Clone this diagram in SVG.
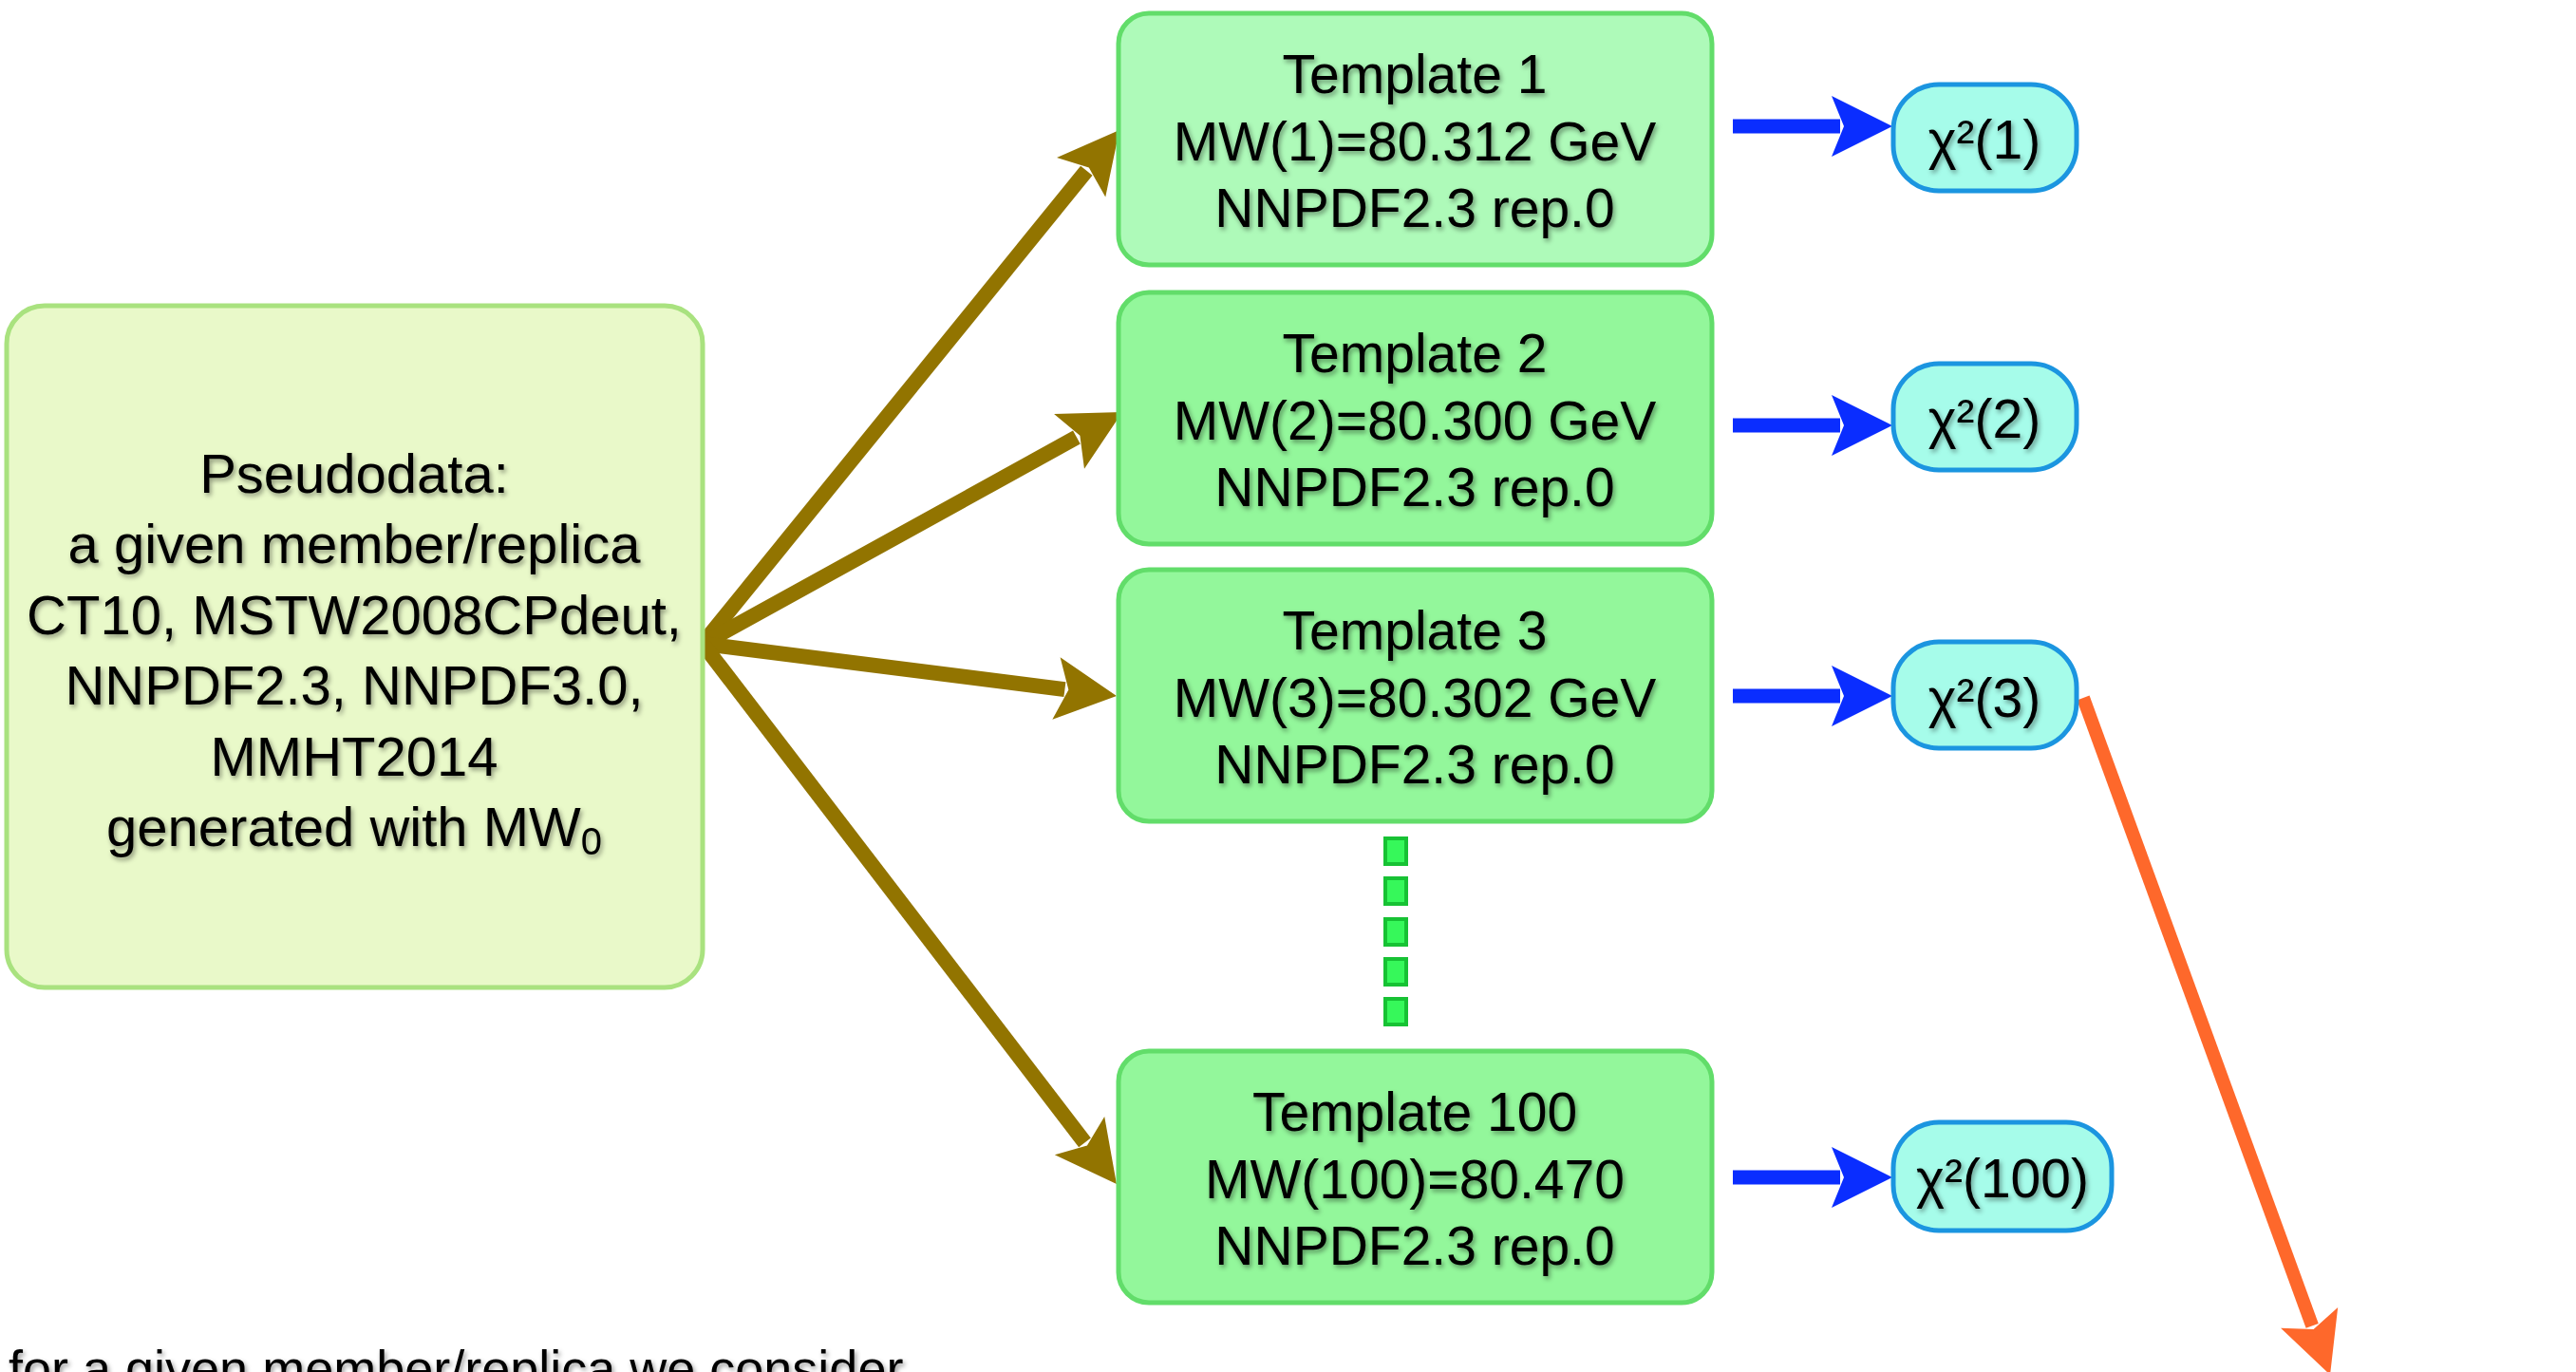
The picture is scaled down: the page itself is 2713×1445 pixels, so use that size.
<svg xmlns="http://www.w3.org/2000/svg" width="2713" height="1445" viewBox="0 0 2713 1445">
  <style>
    .txt { font-family: "Liberation Sans", Arial, sans-serif; fill: #000; text-anchor: middle; filter: url(#ts); }
    .t57 { font-size: 57px; }
    .t58 { font-size: 58px; }
    .pseudo { fill: #e9f9c9; stroke: #a9e27f; stroke-width: 5; }
    .tpl { fill: #93f79b; stroke: #62dd6a; stroke-width: 5; }
    .tpl1 { fill: #aefab9; stroke: #62dd6a; stroke-width: 5; }
    .chi { fill: #a6fcea; stroke: #1b95e0; stroke-width: 5; }
    .brown { stroke: #927400; stroke-width: 16; fill: none; marker-end: url(#ahBrown); }
    .blue { stroke: #0a2dff; stroke-width: 15; fill: none; marker-end: url(#ahBlue); }
    .orange { stroke: #fe682b; stroke-width: 14; fill: none; marker-end: url(#ahOrange); }
    .dot { fill: #36f85a; stroke: #17c234; stroke-width: 4; }
  </style>
  <defs>
    <filter id="ts" x="-10%" y="-30%" width="120%" height="170%">
      <feDropShadow dx="2" dy="3" stdDeviation="2.5" flood-color="#000" flood-opacity="0.4"/>
    </filter>
    <marker id="ahBrown" markerUnits="userSpaceOnUse" viewBox="-20 -40 80 80" markerWidth="80" markerHeight="80" refX="0" refY="0" orient="auto" overflow="visible">
      <path d="M -9,-33 L 55,0 L -9,33 L 4,0 Z" fill="#927400"/>
    </marker>
    <marker id="ahBlue" markerUnits="userSpaceOnUse" viewBox="-20 -40 80 80" markerWidth="80" markerHeight="80" refX="0" refY="0" orient="auto" overflow="visible">
      <path d="M -9,-32 L 55,0 L -9,32 L 4,0 Z" fill="#0a2dff"/>
    </marker>
    <marker id="ahOrange" markerUnits="userSpaceOnUse" viewBox="-20 -40 80 80" markerWidth="80" markerHeight="80" refX="0" refY="0" orient="auto" overflow="visible">
      <path d="M -9,-32 L 55,0 L -9,32 L 4,0 Z" fill="#fe682b"/>
    </marker>
  </defs>

  <rect width="2713" height="1445" fill="#ffffff"/>

  <g id="connectors">
    <line class="brown" x1="740" y1="678" x2="1144.3" y2="179.7"/>
    <line class="brown" x1="740" y1="678" x2="1133.9" y2="460.6"/>
    <line class="brown" x1="740" y1="678" x2="1121.4" y2="726.1"/>
    <line class="brown" x1="740" y1="678" x2="1142.5" y2="1203.3"/>
    <line class="blue" x1="1825" y1="133" x2="1938" y2="133"/>
    <line class="blue" x1="1825" y1="448" x2="1938" y2="448"/>
    <line class="blue" x1="1825" y1="733" x2="1938" y2="733"/>
    <line class="blue" x1="1825" y1="1240" x2="1938" y2="1240"/>
    <line class="orange" x1="2194" y1="735" x2="2435.2" y2="1396.3"/>
    <g id="ellipsis-dots">
      <rect class="dot" x="1459" y="883" width="22" height="27"/>
      <rect class="dot" x="1459" y="925" width="22" height="27"/>
      <rect class="dot" x="1459" y="968" width="22" height="27"/>
      <rect class="dot" x="1459" y="1010" width="22" height="27"/>
      <rect class="dot" x="1459" y="1052" width="22" height="27"/>
    </g>
  </g>

  <g id="pseudodata">
    <rect class="pseudo" x="7" y="322" width="733" height="718" rx="40" ry="40"/>
    <text class="txt t58" x="373" y="519">Pseudodata:</text>
    <text class="txt t58" x="373" y="593">a given member/replica</text>
    <text class="txt t58" x="373" y="668">CT10, MSTW2008CPdeut,</text>
    <text class="txt t58" x="373" y="742">NNPDF2.3, NNPDF3.0,</text>
    <text class="txt t58" x="373" y="817">MMHT2014</text>
    <text class="txt t58" x="373" y="891">generated with MW<tspan font-size="40" dy="9">0</tspan></text>
  </g>

  <g id="template1">
    <rect class="tpl1" x="1178" y="14" width="625" height="265" rx="32" ry="32"/>
    <text class="txt t57" x="1490" y="98">Template 1</text>
    <text class="txt t57" x="1490" y="169">MW(1)=80.312 GeV</text>
    <text class="txt t57" x="1490" y="239">NNPDF2.3 rep.0</text>
  </g>

  <g id="template2">
    <rect class="tpl" x="1178" y="308" width="625" height="265" rx="32" ry="32"/>
    <text class="txt t57" x="1490" y="392">Template 2</text>
    <text class="txt t57" x="1490" y="463">MW(2)=80.300 GeV</text>
    <text class="txt t57" x="1490" y="533">NNPDF2.3 rep.0</text>
  </g>

  <g id="template3">
    <rect class="tpl" x="1178" y="600" width="625" height="265" rx="32" ry="32"/>
    <text class="txt t57" x="1490" y="684">Template 3</text>
    <text class="txt t57" x="1490" y="755">MW(3)=80.302 GeV</text>
    <text class="txt t57" x="1490" y="825">NNPDF2.3 rep.0</text>
  </g>

  <g id="template100">
    <rect class="tpl" x="1178" y="1107" width="625" height="265" rx="32" ry="32"/>
    <text class="txt t57" x="1490" y="1191">Template 100</text>
    <text class="txt t57" x="1490" y="1262">MW(100)=80.470</text>
    <text class="txt t57" x="1490" y="1332">NNPDF2.3 rep.0</text>
  </g>

  <g id="chi1">
    <rect class="chi" x="1994" y="89" width="193" height="112" rx="48" ry="48"/>
    <text class="txt t57" x="2090" y="167">χ²(1)</text>
  </g>
  <g id="chi2">
    <rect class="chi" x="1994" y="383" width="193" height="112" rx="48" ry="48"/>
    <text class="txt t57" x="2090" y="461">χ²(2)</text>
  </g>
  <g id="chi3">
    <rect class="chi" x="1994" y="676" width="193" height="112" rx="48" ry="48"/>
    <text class="txt t57" x="2090" y="755">χ²(3)</text>
  </g>
  <g id="chi100">
    <rect class="chi" x="1994" y="1182" width="230" height="114" rx="48" ry="48"/>
    <text class="txt t57" x="2109" y="1261">χ²(100)</text>
  </g>

  <g id="footer">
    <text x="9" y="1460" style="font-family: 'Liberation Sans', Arial, sans-serif; font-size: 54px; fill: #000; filter: url(#ts);">for a given member/replica we consider</text>
  </g>
</svg>
